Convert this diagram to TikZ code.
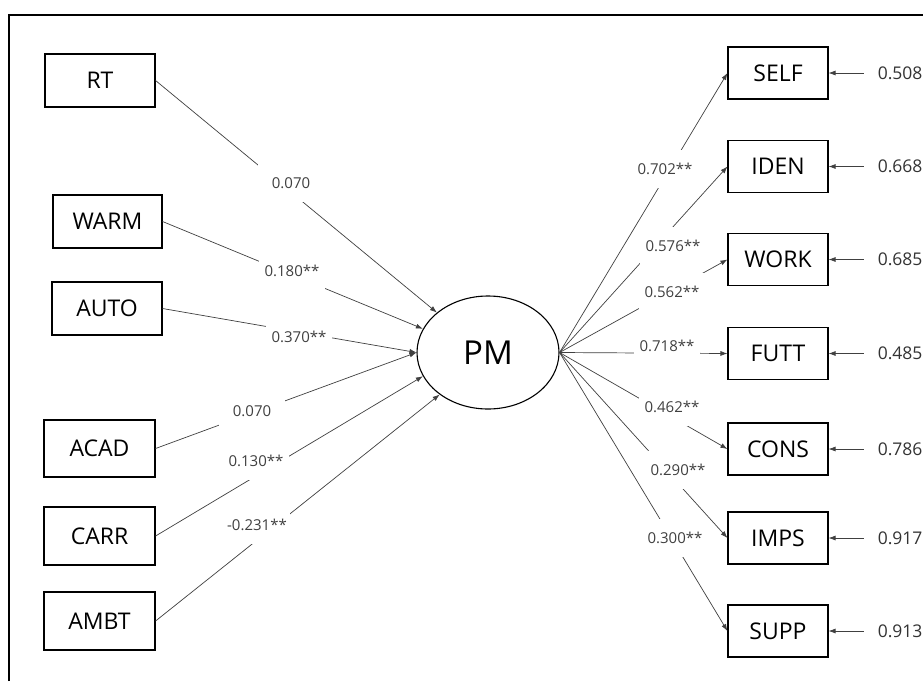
\documentclass[tikz,border=0pt]{standalone}
\usepackage{fontspec}
\setmainfont{Open Sans}
\usetikzlibrary{arrows.meta,shapes.geometric}
\begin{document}
\begin{tikzpicture}[x=1pt,y=-1pt,
  var/.style={draw=black,line width=1.1pt,minimum height=53pt,inner sep=0pt,
              font=\fontsize{23}{27}\selectfont},
  ind/.style={var,minimum width=100pt,minimum height=52pt},
  lat/.style={ellipse,draw=black,line width=1.1pt,minimum width=142pt,
              minimum height=113pt,inner sep=0pt,font=\fontsize{33}{37}\selectfont},
  conn/.style={draw=black!75,line width=0.7pt,-{Latex[length=7pt,width=5pt]}},
  coef/.style={fill=white,minimum width=66pt,minimum height=38pt,inner sep=0pt,
               text=black!75,font=\fontsize{15}{17}\selectfont},
  errv/.style={anchor=west,inner sep=0pt,text=black!80,font=\fontsize{17.5}{20}\selectfont},
]
\useasboundingbox (0,0) rectangle (923,681);
\fill[white] (0,0) rectangle (923,681);
% outer frame
\draw[line width=2pt] (8.5,681) -- (8.5,14.5) -- (923,14.5);

% latent variable
\node[lat] (PM) at (488,352.5) {PM};

% predictors
\node[var,minimum width=110pt] (RT)   at (100,80.5)  {RT};
\node[var,minimum width=109pt] (WARM) at (107.5,221.5) {WARM};
\node[var,minimum width=110pt] (AUTO) at (107,308.5) {AUTO};
\node[var,minimum width=111pt,minimum height=57pt] (ACAD) at (99.5,448.5) {ACAD};
\node[var,minimum width=111pt,minimum height=58pt] (CARR) at (99.5,536) {CARR};
\node[var,minimum width=111pt,minimum height=58pt] (AMBT) at (99.5,621) {AMBT};

% indicators
\node[ind] (SELF) at (778,73)    {SELF};
\node[ind] (IDEN) at (778,166.5) {IDEN};
\node[ind] (WORK) at (778,259.5) {WORK};
\node[ind] (FUTT) at (778,353.5) {FUTT};
\node[ind] (CONS) at (778,449)   {CONS};
\node[ind] (IMPS) at (778,538)   {IMPS};
\node[ind] (SUPP) at (778,631)   {SUPP};

% paths into PM
\draw[conn] (RT.east)   -- (PM.142);
\draw[conn] (WARM.east) -- (PM.160);
\draw[conn] (AUTO.east) -- (PM.west);
\draw[conn] (ACAD.east) -- (PM.west);
\draw[conn] (CARR.east) -- (PM.200);
\draw[conn] (AMBT.east) -- (PM.221);

% loadings
\foreach \t in {SELF,IDEN,WORK,FUTT,CONS,IMPS,SUPP}
  \draw[conn] (PM.east) -- (\t.west);

% residual terms
\foreach \t/\v in {SELF/0.508,IDEN/0.668,WORK/0.685,FUTT/0.485,CONS/0.786,IMPS/0.917,SUPP/0.913}{
  \coordinate (s\t) at ([xshift=35pt]\t.east);
  \node[errv] (e\t) at ([xshift=49pt]\t.east) {\v};
  \draw[conn] (s\t) -- (\t.east);
}

% coefficients
\node[coef] (cRT)   at (291,183) {0.070};
\node[coef] (cWARM) at (292,271) {0.180**};
\node[coef] (cAUTO) at (299,337) {0.370**};
\node[coef] (cACAD) at (252,411) {0.070};
\node[coef] (cCARR) at (256,461) {0.130**};
\node[coef] (cAMBT) at (257,525) {-0.231**};

\node[coef] (cSELF) at (665,169) {0.702**};
\node[coef] (cIDEN) at (673,246) {0.576**};
\node[coef] (cWORK) at (672,292) {0.562**};
\node[coef] (cFUTT) at (667,346) {0.718**};
\node[coef] (cCONS) at (672,407) {0.462**};
\node[coef] (cIMPS) at (678,470) {0.290**};
\node[coef] (cSUPP) at (675,538) {0.300**};
\end{tikzpicture}
\end{document}
